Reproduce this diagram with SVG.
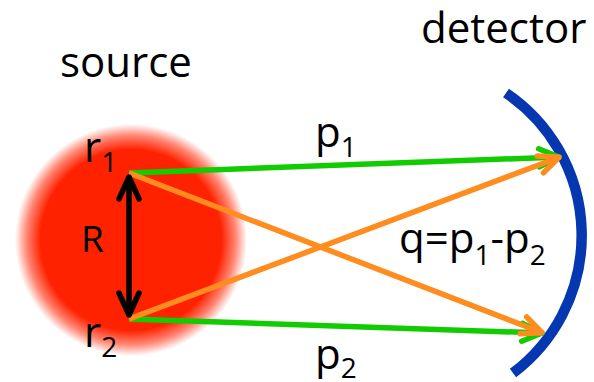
<svg xmlns="http://www.w3.org/2000/svg" width="594" height="382" viewBox="0 0 594 382">
<style>
text{font-family:"Open Sans","Noto Sans","DejaVu Sans",sans-serif;fill:#000}
.lbl{font-size:42px}
.m{font-size:42px}
.sub{font-size:28px}
.g{stroke:#11cc00;stroke-width:5.5;fill:none}
.o{stroke:#ff8c1e;stroke-width:5.5;fill:none}
</style>
<defs>
<radialGradient id="src" cx="131" cy="240" r="116" gradientUnits="userSpaceOnUse">
<stop offset="0" stop-color="#ff2200"/>
<stop offset="0.78" stop-color="#ff2200"/>
<stop offset="0.9" stop-color="#ff2200" stop-opacity="0.55"/>
<stop offset="1" stop-color="#ff2200" stop-opacity="0"/>
</radialGradient>
<marker id="ag" markerUnits="userSpaceOnUse" orient="auto" markerWidth="30" markerHeight="30" refX="0" refY="0" viewBox="-26 -15 30 30" overflow="visible">
<path d="M-21,-9 L-1,0 L-21,9" fill="none" stroke="#11cc00" stroke-width="5.5" stroke-linecap="round" stroke-linejoin="round"/>
</marker>
<marker id="ao" markerUnits="userSpaceOnUse" orient="auto" markerWidth="30" markerHeight="30" refX="0" refY="0" viewBox="-26 -15 30 30" overflow="visible">
<path d="M-21,-9 L-1,0 L-21,9" fill="none" stroke="#ff8c1e" stroke-width="5.5" stroke-linecap="round" stroke-linejoin="round"/>
</marker>
<marker id="ak" markerUnits="userSpaceOnUse" orient="auto-start-reverse" markerWidth="40" markerHeight="40" refX="0" refY="0" viewBox="-30 -15 40 30" overflow="visible">
<path d="M-23,-10 L-1,0 L-23,10" fill="none" stroke="#000" stroke-width="5.5" stroke-linecap="round" stroke-linejoin="round"/>
</marker>
</defs>
<g id="source">
<circle cx="131" cy="240" r="116" fill="url(#src)"/>
<text class="lbl" x="60" y="77">source</text>
</g>
<g id="detector">
<path d="M506,93 A172,172 0 0 1 513,373" fill="none" stroke="#0537b0" stroke-width="10.5"/>
<text class="lbl" x="421" y="43">detector</text>
</g>
<g id="connectors">
<path class="g" d="M129,173 L560,157" marker-end="url(#ag)"/>
<path class="g" d="M129,319 L543,333" marker-end="url(#ag)"/>
<path class="o" d="M129,319 L560,157" marker-end="url(#ao)"/>
<path class="o" d="M129,173 L543,333" marker-end="url(#ao)"/>
<path d="M129,176 L129,316" stroke="#000" stroke-width="5.5" fill="none" marker-start="url(#ak)" marker-end="url(#ak)"/>
</g>
<g id="labels">
<text class="m" x="84" y="162">r<tspan class="sub" dy="10">1</tspan></text>
<text class="m" x="84" y="347">r<tspan class="sub" dy="10">2</tspan></text>
<text style="font-size:37px" x="81" y="252">R</text>
<text class="m" x="315" y="147">p<tspan class="sub" dy="10">1</tspan></text>
<text class="m" x="315" y="369">p<tspan class="sub" dy="9">2</tspan></text>
<text class="m" x="399" y="253">q=p<tspan class="sub" dy="12">1</tspan><tspan dy="-12">-p</tspan><tspan class="sub" dy="12">2</tspan></text>
</g>
</svg>
